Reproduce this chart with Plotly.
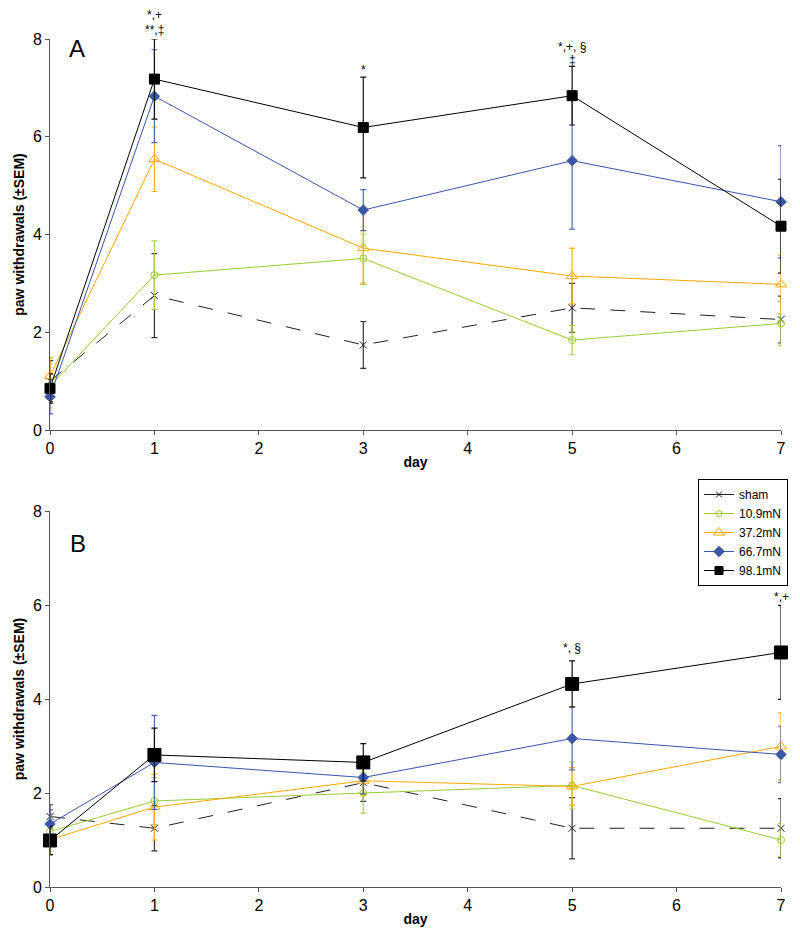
import plotly.graph_objects as go

days = [0, 1, 3, 5, 7]
series_names = ["sham", "10.9mN", "37.2mN", "66.7mN", "98.1mN"]

# Panel A means and SEM
a_sham = [1.0, 2.75, 1.74, 2.5, 2.26]
a_sham_err = [0.42, 0.86, 0.48, 0.5, 0.48]
a_109 = [0.9, 3.17, 3.51, 1.84, 2.18]
a_109_err = [0.45, 0.7, 0.5, 0.3, 0.45]
a_372 = [1.1, 5.54, 3.72, 3.15, 2.98]
a_372_err = [0.38, 0.66, 0.74, 0.57, 0.6]
a_667 = [0.68, 6.83, 4.5, 5.51, 4.67]
a_667_err = [0.35, 0.95, 0.42, 1.4, 1.15]
a_981 = [0.85, 7.18, 6.19, 6.84, 4.17]
a_981_err = [0.3, 0.82, 1.03, 0.6, 0.96]

# Panel B means and SEM
b_sham = [1.5, 1.25, 2.22, 1.25, 1.25]
b_sham_err = [0.25, 0.48, 0.4, 0.65, 0.63]
b_109 = [1.18, 1.83, 2.0, 2.16, 1.0]
b_109_err = [0.3, 0.5, 0.43, 0.5, 0.35]
b_372 = [1.01, 1.7, 2.26, 2.14, 2.99]
b_372_err = [0.33, 0.7, 0.3, 0.4, 0.72]
b_667 = [1.34, 2.65, 2.33, 3.16, 2.82]
b_667_err = [0.3, 1.0, 0.35, 0.67, 0.6]
b_981 = [0.99, 2.81, 2.65, 4.32, 4.99]
b_981_err = [0.3, 0.57, 0.4, 0.49, 1.0]

x_ticks = [0, 1, 2, 3, 4, 5, 6, 7]
y_ticks = [0, 2, 4, 6, 8]

# significance marks: (panel, day, level in axis units, text)
sig_marks = [
    ("A", 1, 8.50, "*,+"),
    ("A", 1, 8.19, "**,‡"),
    ("A", 3, 7.36, "*"),
    ("A", 5, 7.84, "*,+, §"),
    ("A", 5, 7.58, "‡"),
    ("B", 5, 5.09, "*, §"),
    ("B", 7, 6.17, "*,+"),
]

colors = ["#222222", "#99CC33", "#FFAA00", "#3A56A8", "#000000"]
symbols = ["x-thin", "circle-open", "triangle-up-open", "diamond", "square"]
dashes = ["longdash", "solid", "solid", "solid", "solid"]
err_colors = ["#333333", "#A8D050", "#FFB020", "#5068B0", "#111111"]
legend_sizes = [6, 6, 10, 8, 8]

FONT = "Arial, Liberation Sans, sans-serif"
fig = go.Figure()

# plot area (page px): x 50..781, y 39..887 ; body has 8px margin
W, H = 792, 937
ML, MR, MT, MB = 42, 19, 31, 58
plot_h = H - MT - MB
domA = [(887 - 430) / plot_h, 1.0]
domB = [0.0, (887 - 511) / plot_h]

panels = [
    ("A", "x", "y", [a_sham, a_109, a_372, a_667, a_981],
     [a_sham_err, a_109_err, a_372_err, a_667_err, a_981_err], [7, 7, 10, 8, 10]),
    ("B", "x2", "y2", [b_sham, b_109, b_372, b_667, b_981],
     [b_sham_err, b_109_err, b_372_err, b_667_err, b_981_err], [7, 7, 10, 8, 13]),
]

for pname, xa, ya, vals, errs, sizes in panels:
    for i, name in enumerate(series_names):
        fig.add_trace(go.Scatter(
            x=days, y=vals[i], name=name, mode="lines+markers",
            xaxis=xa, yaxis=ya, showlegend=False,
            line=dict(color=colors[i], width=1, dash=dashes[i]),
            marker=dict(symbol=symbols[i], size=sizes[i], color=colors[i],
                        line=dict(color=colors[i], width=1)),
            error_y=dict(type="data", array=errs[i], visible=True,
                         color=err_colors[i], thickness=1.2, width=3),
            cliponaxis=False,
        ))

# legend entries (small symbols, as in the original key)
for i, name in enumerate(series_names):
    fig.add_trace(go.Scatter(
        x=[None], y=[None], name=name, mode="lines+markers",
        xaxis="x2", yaxis="y2", showlegend=True,
        line=dict(color=colors[i], width=1, dash="solid"),
        marker=dict(symbol=symbols[i], size=legend_sizes[i], color=colors[i],
                    line=dict(color=colors[i], width=1)),
    ))

axis_common = dict(
    showgrid=False, zeroline=False, showline=True, linecolor="#555555",
    linewidth=1, ticks="outside", ticklen=4, tickcolor="#555555",
    tickfont=dict(family=FONT, size=16, color="#000000"), automargin=False,
)
ytitle = dict(text="<b>paw withdrawals (±SEM)</b>", font=dict(size=14, family=FONT), standoff=4)
xtitle = dict(text="<b>day</b>", font=dict(size=14, family=FONT), standoff=0)

fig.update_layout(
    width=W, height=H,
    margin=dict(l=ML, r=MR, t=MT, b=MB),
    paper_bgcolor="white", plot_bgcolor="white",
    font=dict(family=FONT, color="#000000"),
    xaxis=dict(axis_common, range=[0, 7], tickvals=x_ticks, anchor="y", domain=[0, 1], title=xtitle),
    yaxis=dict(axis_common, range=[0, 8], tickvals=y_ticks, anchor="x", domain=domA, title=ytitle),
    xaxis2=dict(axis_common, range=[0, 7], tickvals=x_ticks, anchor="y2", domain=[0, 1], title=xtitle),
    yaxis2=dict(axis_common, range=[0, 8], tickvals=y_ticks, anchor="x2", domain=domB, title=ytitle),
    legend=dict(
        x=(788 - 50) / 731, y=(887 - 479) / plot_h, xanchor="right", yanchor="top",
        bgcolor="white", bordercolor="#000000", borderwidth=1,
        font=dict(family=FONT, size=12), tracegroupgap=0, itemwidth=30,
    ),
)


def to_paper(panel, v):
    d = domA if panel == "A" else domB
    return d[0] + (d[1] - d[0]) * v / 8.0


anns = [
    dict(text="A", x=0.26, y=7.81, xref="x", yref="y", showarrow=False,
         font=dict(size=24, family=FONT), xanchor="center", yanchor="middle"),
    dict(text="B", x=0.27, y=7.30, xref="x2", yref="y2", showarrow=False,
         font=dict(size=24, family=FONT), xanchor="center", yanchor="middle"),
]
for pname, d, yv, txt in sig_marks:
    xr = "x" if pname == "A" else "x2"
    anns.append(dict(text=txt, x=d, y=to_paper(pname, yv), xref=xr, yref="paper", showarrow=False,
                     font=dict(size=12, family=FONT), xanchor="center", yanchor="middle"))
fig.update_layout(annotations=anns)

fig.write_html("out.html")
